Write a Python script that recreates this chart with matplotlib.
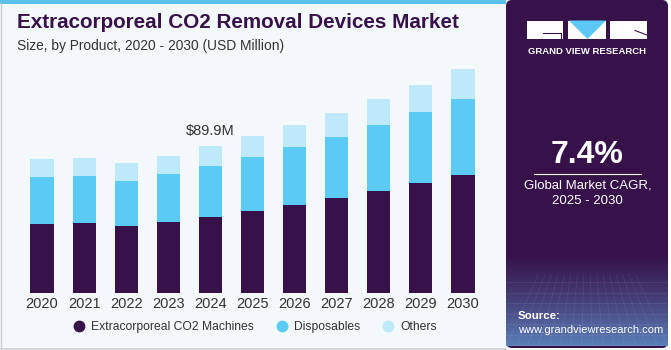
import numpy as np
import matplotlib.pyplot as plt
from matplotlib.patches import Rectangle, Polygon, FancyBboxPatch
from matplotlib.lines import Line2D

plt.rcParams["font.family"] = ["Liberation Sans", "DejaVu Sans"]

# market size by product, USD million
years = ["2020", "2021", "2022", "2023", "2024", "2025", "2026", "2027", "2028", "2029", "2030"]
machines = [42.5, 43.1, 41.3, 43.7, 46.8, 50.4, 54.1, 58.2, 62.4, 67.3, 72.4]
disposables = [28.5, 28.7, 27.1, 29.3, 31.1, 33.0, 35.2, 37.4, 40.3, 43.1, 46.4]
others = [10.8, 10.8, 10.8, 11.0, 12.0, 12.6, 13.6, 14.6, 15.7, 16.9, 18.1]
series_names = ["Extracorporeal CO2 Machines", "Disposables", "Others"]
label_year = "2024"
label_text = "$89.9M"

c_machines = "#37114A"
c_disp = "#5BCBF5"
c_others = "#BDE9FA"
bg = "#F3F8FB"
dark = "#333333"

W, H = 671, 350
fig = plt.figure(figsize=(W / 100, H / 100), dpi=100)
fig.patch.set_facecolor("white")

# background layer in pixel coordinates
deco = fig.add_axes([0, 0, 1, 1])
deco.set_xlim(0, W)
deco.set_ylim(H, 0)
deco.axis("off")
deco.add_patch(Rectangle((0, 0), 506, 348, facecolor=bg, edgecolor="none"))
deco.add_patch(Rectangle((0, 0), 506, 3.5, facecolor="#5BC0EA", edgecolor="none"))
deco.plot([0.5, 0.5], [3, 348], color="#C8CDD2", lw=1)
deco.plot([0, 506], [348.5, 348.5], color="#C8CDD2", lw=1.2)

# right panel
panel_col = "#37114A"
deco.add_patch(FancyBboxPatch((506, 0), 162, 348, boxstyle="round,pad=0,rounding_size=6",
                              facecolor=panel_col, edgecolor="none"))
grad = np.linspace(0, 1, 100)[:, None]
cmap = plt.matplotlib.colors.LinearSegmentedColormap.from_list("g", [panel_col, "#46407A", "#5A7DB8"])
deco.imshow(grad, extent=(506, 668, 346, 255), aspect="auto", cmap=cmap, origin="upper", zorder=1)
for yy in np.linspace(282, 345, 7):
    deco.plot([506, 668], [yy, yy], color="white", alpha=0.07, lw=0.6, zorder=2)
for xx in np.linspace(506, 668, 16):
    deco.plot([xx, 587 + (xx - 587) * 0.6], [346, 275], color="white", alpha=0.07, lw=0.6, zorder=2)

# logo
deco.add_patch(Rectangle((527, 20.5), 36, 18.5, facecolor="white", zorder=3))
deco.plot([543, 561, 561], [32.5, 32.5, 39], color=panel_col, lw=0.8, zorder=4)
deco.add_patch(Rectangle((568, 20.5), 38, 18.5, facecolor="white", zorder=3))
deco.add_patch(Polygon([(569, 20.5), (606, 20.5), (587.5, 39)], facecolor="#5BC8F5", zorder=4))
deco.add_patch(Rectangle((610, 20.5), 37, 18.5, facecolor="white", zorder=3))
deco.plot([635, 647], [30.5, 35], color=panel_col, lw=0.8, zorder=4)
deco.text(587.5, 51, "GRAND VIEW RESEARCH", color="white", fontsize=6.8, fontweight="bold",
          ha="center", va="center", zorder=5)

deco.text(587.5, 155, "7.4%", color="white", fontsize=23, fontweight="bold",
          ha="center", va="center", zorder=5)
deco.plot([534, 641], [173.5, 173.5], color="white", lw=0.8, zorder=5)
deco.text(587.5, 186, "Global Market CAGR,", color="white", fontsize=9.5, ha="center", va="center", zorder=5)
deco.text(587.5, 201, "2025 - 2030", color="white", fontsize=9.5, ha="center", va="center", zorder=5)
deco.text(518, 316, "Source:", color="white", fontsize=8.2, fontweight="bold", ha="left", va="center", zorder=5)
deco.text(518, 330, "www.grandviewresearch.com", color="white", fontsize=8.0, ha="left", va="center", zorder=5)

# titles
deco.text(17, 22, "Extracorporeal CO2 Removal Devices Market", color=c_machines, fontsize=14.9,
          fontweight="bold", ha="left", va="center")
deco.text(17, 46, "Size, by Product, 2020 - 2030 (USD Million)", color=dark, fontsize=9.9,
          ha="left", va="center")

# bar chart
base_px = 293.3
top_px = 60
ax = fig.add_axes([21 / W, (H - base_px) / H, 463 / W, (base_px - top_px) / H])
ax.set_facecolor("none")
x = np.arange(len(years))
bw = 0.55
m = np.array(machines)
d = np.array(disposables)
o = np.array(others)
ax.bar(x, m, bw, color=c_machines, label=series_names[0])
ax.bar(x, d, bw, bottom=m, color=c_disp, label=series_names[1])
ax.bar(x, o, bw, bottom=m + d, color=c_others, label=series_names[2])
ax.set_xlim(-0.5, len(years) - 0.5)
ax.set_ylim(0, (base_px - top_px) / 1.639)
ax.set_xticks(x)
ax.set_xticklabels(years, fontsize=10.5, color=dark)
ax.tick_params(axis="x", length=0, pad=3)
ax.set_yticks([])
for s in ax.spines.values():
    s.set_visible(False)

i = years.index(label_year)
ax.text(x[i], m[i] + d[i] + o[i] + 5, label_text, ha="center", va="bottom", fontsize=10.5, color=dark)

# legend
handles = [Line2D([], [], marker="o", ls="none", markersize=7.5, color=c) for c in [c_machines, c_disp, c_others]]
fig.legend(handles, series_names, loc="center", bbox_to_anchor=(252 / W, (H - 327) / H),
           ncol=3, frameon=False, fontsize=8.7, handletextpad=0.0, columnspacing=1.3,
           labelcolor=dark)

fig.savefig("out.png", dpi=100, facecolor=fig.get_facecolor())
